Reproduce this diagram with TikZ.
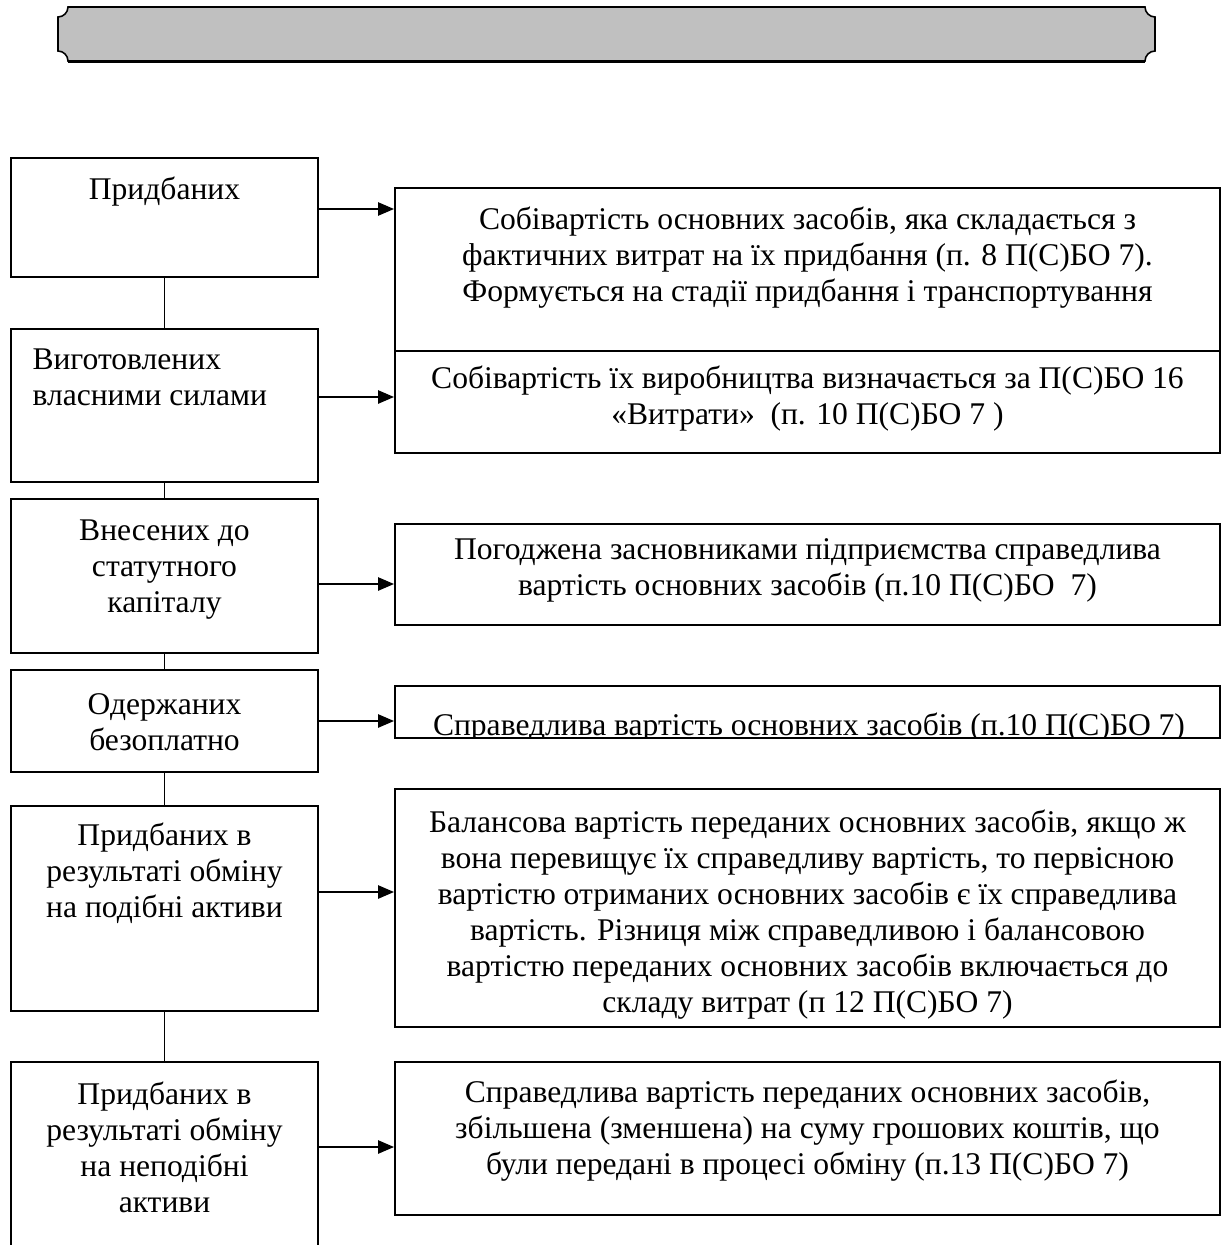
\documentclass[tikz,border=0pt]{standalone}
\usepackage{fontspec}
\setmainfont{Liberation Serif}
\usetikzlibrary{arrows.meta,fit}
\definecolor{plaquegray}{RGB}{192,192,192}

\begin{document}
\begin{tikzpicture}[x=0.38pt,y=-0.38pt,
        box/.style={draw,line width=0.75pt,inner sep=0pt},
        txt/.style={align=center,inner sep=0pt,font=\fontsize{12}{13.68}\selectfont},
        link/.style={line width=0.6pt},
        arr/.style={line width=0.6pt,-{Triangle[length=6pt,width=5pt]}}]
        \useasboundingbox (0,0) rectangle (1224,1245);
        \clip (0,0) rectangle (1224,1245);

        % banner
        \filldraw[fill=plaquegray,line width=0.6pt] (68,7) -- (1145,7)
            .. controls (1145,12.5) and (1149.5,17) .. (1155,17) -- (1155,51)
            .. controls (1149.5,51) and (1145,55.5) .. (1145,61) -- (68,61)
            .. controls (68,55.5) and (63.5,51) .. (58,51) -- (58,17)
            .. controls (63.5,17) and (68,12.5) .. (68,7) -- cycle;
        \draw[line width=0.5pt] (68,62.5) -- (1145,62.5);

        % left column
        \node[box,fit={(11,158) (318,277)}] (l1) {};
        \node[box,fit={(11,329) (318,482)}] (l2) {};
        \node[box,fit={(11,499) (318,653)}] (l3) {};
        \node[box,fit={(11,670) (318,772)}] (l4) {};
        \node[box,fit={(11,806) (318,1011)}] (l5) {};
        \node[box,fit={(11,1062) (318,1290)}] (l6) {};

        \node[txt] (l1t) at (164.5,192) {Придбаних};
        \node[txt,align=left,anchor=west] (l2t) at (32,377.5) {Виготовлених\\власними силами};
        \node[txt] (l3t) at (164.5,569.5) {Внесених до\\статутного\\капіталу};
        \node[txt] (l4t) at (164.5,722.5) {Одержаних\\безоплатно};
        \node[txt] (l5t) at (164.5,873.5) {Придбаних в\\результаті обміну\\на подібні активи};
        \node[txt] (l6t) at (164.5,1147.5) {Придбаних в\\результаті обміну\\на неподібні\\активи};

        % right column
        \node[box,fit={(395,188) (1220,351)}] (r1) {};
        \node[box,fit={(395,351) (1220,453)}] (r2) {};
        \node[box,fit={(395,524) (1220,625)}] (r3) {};
        \node[box,fit={(395,686) (1220,738)}] (r4) {};
        \node[box,fit={(395,789) (1220,1027)}] (r5) {};
        \node[box,fit={(395,1062) (1220,1215)}] (r6) {};

        \node[txt] (r1t) at (807.5,257.5) {Собівартість основних засобів, яка складається з\\фактичних витрат на їх придбання (п. 8 П(С)БО 7).\\Формується на стадії придбання і транспортування};
        \node[txt] (r2t) at (807.5,399) {Собівартість їх виробництва визначається за П(С)БО 16\\«Витрати»\ \ (п. 10 П(С)БО 7 )};
        \node[txt] (r3t) at (807.5,570) {Погоджена засновниками підприємства справедлива\\вартість основних засобів (п.10 П(С)БО\ \ 7)};
        \begin{scope}
            \clip (r4.north west) rectangle (r4.south east);
            \node[txt,anchor=base] (r4t) at (809,735) {Справедлива вартість основних засобів (п.10 П(С)БО 7)};
        \end{scope}
        \node[txt] (r5t) at (807.5,914.5) {Балансова вартість переданих основних засобів, якщо ж\\вона перевищує їх справедливу вартість, то первісною\\вартістю отриманих основних засобів є їх справедлива\\вартість. Різниця між справедливою і балансовою\\вартістю переданих основних засобів включається до\\складу витрат (п 12 П(С)БО 7)};
        \node[txt] (r6t) at (807.5,1131) {Справедлива вартість переданих основних засобів,\\збільшена (зменшена) на суму грошових коштів, що\\були передані в процесі обміну (п.13 П(С)БО 7)};

        % connectors
        \draw[link] (l1) -- (l2);
        \draw[link] (l2) -- (l3);
        \draw[link] (l3) -- (l4);
        \draw[link] (l4) -- (l5);
        \draw[link] (l5) -- (l6);

        \draw[arr] (l1.east |- 0,209) -- (r1.west |- 0,209);
        \draw[arr] (l2.east |- 0,397) -- (r2.west |- 0,397);
        \draw[arr] (l3.east |- 0,584) -- (r3.west |- 0,584);
        \draw[arr] (l4.east |- 0,721) -- (r4.west |- 0,721);
        \draw[arr] (l5.east |- 0,892) -- (r5.west |- 0,892);
        \draw[arr] (l6.east |- 0,1147) -- (r6.west |- 0,1147);
    \end{tikzpicture}
\end{document}
